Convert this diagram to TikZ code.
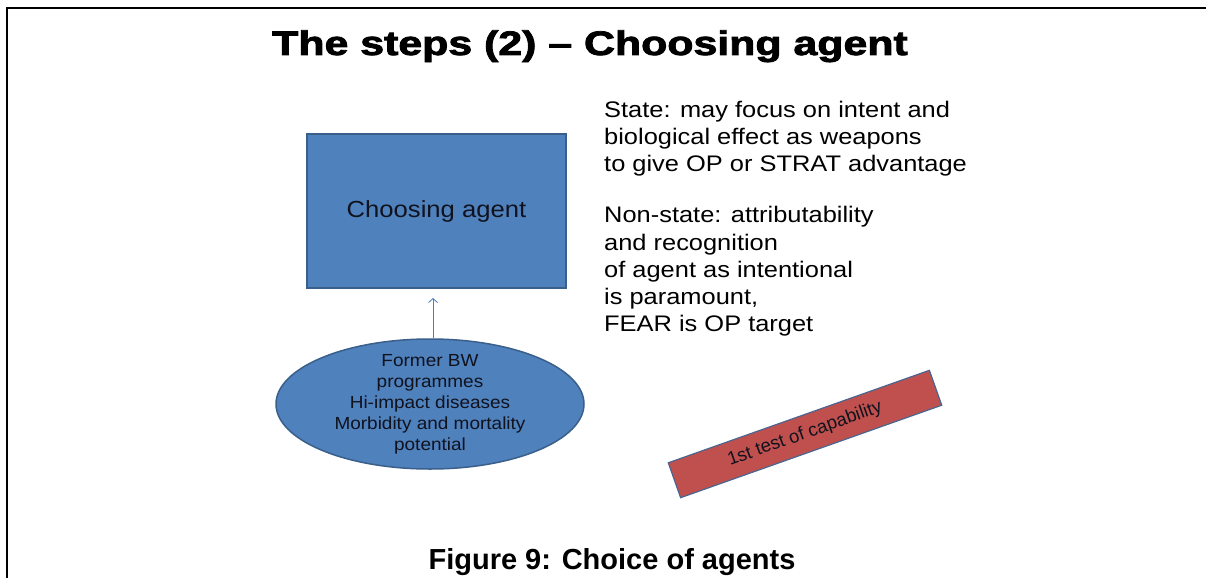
\documentclass[tikz,border=0pt]{standalone}
\usepackage{fontspec}
\setmainfont{Liberation Sans}
\newfontfamily\blackfont{Liberation Sans}[BoldFeatures={FakeBold=2.2}]
\usetikzlibrary{shapes.geometric,arrows.meta}
\definecolor{boxblue}{HTML}{4F81BD}
\definecolor{boxedge}{HTML}{3A5F8B}
\definecolor{boxred}{HTML}{C0504D}
\definecolor{redge}{HTML}{4A6590}
\definecolor{txtdark}{HTML}{10121E}
\definecolor{arrowc}{HTML}{4A7EBB}
\newcommand\sx[2]{\scalebox{#1}[1]{#2}}
\tikzset{
  bluebox/.style={draw=boxedge, fill=boxblue, line width=2pt, inner sep=0pt, text=txtdark},
  blueoval/.style={ellipse, draw=boxedge, fill=boxblue, line width=1.5pt, inner xsep=0pt, inner ysep=-14pt, text=txtdark, align=center, font=\fontsize{17.5}{21}\selectfont},
  redbar/.style={draw=redge, fill=boxred, line width=1.2pt, inner sep=0pt, text=txtdark},
  plaintext/.style={anchor=north west, inner sep=0pt, align=left, text=black, font=\fontsize{22.5}{27.2}\selectfont},
  feed/.style={draw=arrowc, line width=0.8pt, -{Straight Barb[length=4pt,width=9pt]}}
}
\begin{document}
\begin{tikzpicture}[x=1pt,y=-1pt]
\useasboundingbox (0,0) rectangle (1206,578);
\fill[white] (0,0) rectangle (1206,578);
\draw[line width=1.6pt] (7,578) -- (7,8) -- (1206,8);

\node[anchor=base, inner sep=0pt] (title) at (590,55)
  {\fontsize{34}{40}\selectfont\blackfont\bfseries\sx{1.26}{The steps (2) – Choosing agent}};

\node[bluebox, minimum width=259pt, minimum height=154pt] (agent) at (436.5,211)
  {\fontsize{23.3}{28}\selectfont\raisebox{-3pt}{\sx{1.10}{Choosing agent}}};

\node[blueoval, minimum width=308pt, minimum height=130pt] (source) at (430,404)
  {\sx{1.085}{Former BW}\\ \sx{1.085}{programmes}\\ \sx{1.085}{Hi-impact diseases}\\
   \sx{1.085}{Morbidity and mortality}\\ \sx{1.085}{potential}};

\draw[feed, shorten >=9pt] ([xshift=3pt]source.north) -- ([xshift=3pt]source.north |- agent.south);

\node[plaintext] (state) at (604,100.6)
  {\sx{1.13}{State: may focus on intent and}\\
   \sx{1.13}{biological effect as weapons}\\
   \sx{1.13}{to give OP or STRAT advantage}};

\node[plaintext] (nonstate) at (604,206.3)
  {\sx{1.13}{Non-state: attributability}\\
   \sx{1.13}{and recognition}\\
   \sx{1.13}{of agent as intentional}\\
   \sx{1.13}{is paramount,}\\
   \sx{1.13}{FEAR is OP target}};

\node[redbar, minimum width=277pt, minimum height=37pt, rotate=19.5] (test) at (805,434)
  {\fontsize{18.5}{22}\selectfont 1st test of capability};

\node[anchor=base, inner sep=0pt] (caption) at (612,569)
  {\fontsize{29}{34}\selectfont\bfseries Figure 9: Choice of agents};
\end{tikzpicture}
\end{document}
